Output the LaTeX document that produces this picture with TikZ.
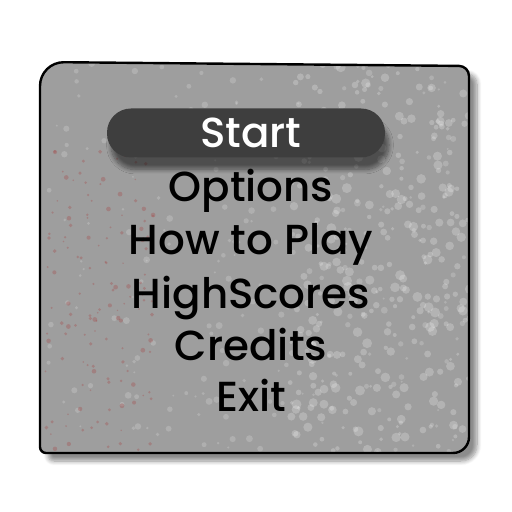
\documentclass[tikz,border=0pt]{standalone}
\usepackage{fontspec}
\setmainfont{Poppins}
\newfontfamily\menufont{Poppins}[UprightFont=* Medium]
\usetikzlibrary{shadows,shadows.blur}

\definecolor{panelgray}{RGB}{158,158,158}
\definecolor{pilldark}{RGB}{62,62,62}
\definecolor{stain}{RGB}{165,75,75}

\tikzset{
    menuitem/.style={anchor=base, font=\menufont\fontsize{21}{24}\selectfont, text=black},
    menupick/.style={anchor=base, font=\menufont\fontsize{21}{24}\selectfont, text=white},
    panelpath/.style={line width=1.2pt}
}

\begin{document}
\begin{tikzpicture}[x=0.5pt,y=-0.5pt]
    \useasboundingbox (0,0) rectangle (512,512);
    \pgfmathsetseed{7}
    % panel
    \def\panel{(40,250) [rounded corners=12pt] -- (40,62) [rounded corners=5pt] -- (469,66)
        [rounded corners=8pt] -- (469,453) [rounded corners=3pt] -- (40,453) [sharp corners] -- cycle}
    \fill[panelgray, blur shadow={shadow xshift=4pt, shadow yshift=-4pt, shadow blur steps=8, shadow opacity=45}] \panel;
    \begin{scope}
        \clip \panel;
        % speckles
        \foreach \i in {1,...,320}
            \fill[white, opacity=0.22] (290+180*rnd,62+390*rnd) circle (1.5+3.5*rnd);
        \foreach \i in {1,...,220}
            \fill[white, opacity=0.18] (40+430*rnd,62+390*rnd) circle (1+2.5*rnd);
        \foreach \i in {1,...,140}
            \fill[stain, opacity=0.35] (45+110*rnd,150+300*rnd) circle (0.8+1.6*rnd);
    \end{scope}
    \draw[panelpath] \panel;
    % highlight bar
    \node (bar) [fill=pilldark, rounded corners=12pt, minimum width=139pt, minimum height=24.5pt,
          blur shadow={shadow xshift=2pt, shadow yshift=-6pt, shadow blur steps=10, shadow opacity=50}]
        at (246,133) {};
    \node (start)   [menupick] at (251,148) {Start};
    \node (options) [menuitem] at (251,202) {Options};
    \node (howto)   [menuitem] at (251,255) {How to Play};
    \node (scores)  [menuitem] at (251,308) {HighScores};
    \node (credits) [menuitem] at (251,360) {Credits};
    \node (exit)    [menuitem] at (251,411) {Exit};
\end{tikzpicture}
\end{document}
